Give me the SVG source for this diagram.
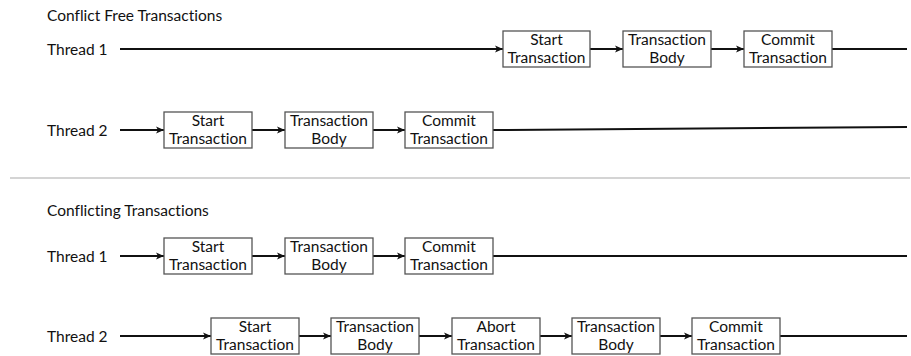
<svg xmlns="http://www.w3.org/2000/svg" width="911" height="356" viewBox="0 0 911 356">
<defs>
<marker id="arr" markerUnits="userSpaceOnUse" markerWidth="9" markerHeight="8" refX="8" refY="4" orient="auto">
<path d="M0,0.5 L8,4 L0,7.5 L2,4 Z" fill="#111"/>
</marker>
</defs>
<style>
text{font-family:Lato,"Liberation Sans",sans-serif;font-size:15.5px;fill:#111;font-variant-ligatures:none;font-feature-settings:"liga" 0,"dlig" 0}
.box rect{fill:#fff;stroke:#555;stroke-width:1.3}
.box text{text-anchor:middle}
.c line{stroke:#111;stroke-width:2}
.c .a{marker-end:url(#arr)}
</style>
<rect width="911" height="356" fill="#fff"/>
<text x="47" y="21">Conflict Free Transactions</text>
<text x="47" y="55">Thread 1</text>
<text x="47" y="136">Thread 2</text>
<line x1="10" y1="178" x2="910" y2="178" stroke="#aaa" stroke-width="1.2"/>
<text x="47" y="216">Conflicting Transactions</text>
<text x="47" y="262">Thread 1</text>
<text x="47" y="342">Thread 2</text>

<g class="c" id="connectors">
<line class="a" x1="120" y1="49" x2="503" y2="49"/>
<line class="a" x1="590" y1="49" x2="623" y2="49"/>
<line class="a" x1="711" y1="49" x2="744" y2="49"/>
<line x1="832" y1="49" x2="907" y2="49"/>
<line class="a" x1="120" y1="130" x2="164" y2="130"/>
<line class="a" x1="252" y1="130" x2="285" y2="130"/>
<line class="a" x1="373" y1="130" x2="405" y2="130"/>
<line x1="493" y1="130" x2="907" y2="127"/>
<line class="a" x1="120" y1="256" x2="164" y2="256"/>
<line class="a" x1="252" y1="256" x2="285" y2="256"/>
<line class="a" x1="373" y1="256" x2="405" y2="256"/>
<line x1="493" y1="256" x2="907" y2="256"/>
<line class="a" x1="120" y1="336" x2="211" y2="336"/>
<line class="a" x1="299" y1="336" x2="331" y2="336"/>
<line class="a" x1="419" y1="336" x2="452" y2="336"/>
<line class="a" x1="540" y1="336" x2="572" y2="336"/>
<line class="a" x1="660" y1="336" x2="692" y2="336"/>
<line x1="780" y1="336" x2="907" y2="336"/>
</g>

<g class="box" id="cf-t1-start"><rect x="503" y="31" width="87" height="36"/><text x="546.5" y="45">Start</text><text x="546.5" y="63">Transaction</text></g>
<g class="box" id="cf-t1-body"><rect x="623" y="31" width="88" height="36"/><text x="667" y="45">Transaction</text><text x="667" y="63">Body</text></g>
<g class="box" id="cf-t1-commit"><rect x="744" y="31" width="88" height="36"/><text x="788" y="45">Commit</text><text x="788" y="63">Transaction</text></g>

<g class="box" id="cf-t2-start"><rect x="164" y="112" width="88" height="36"/><text x="208" y="126">Start</text><text x="208" y="144">Transaction</text></g>
<g class="box" id="cf-t2-body"><rect x="285" y="112" width="88" height="36"/><text x="329" y="126">Transaction</text><text x="329" y="144">Body</text></g>
<g class="box" id="cf-t2-commit"><rect x="405" y="112" width="88" height="36"/><text x="449" y="126">Commit</text><text x="449" y="144">Transaction</text></g>

<g class="box" id="ct-t1-start"><rect x="164" y="238" width="88" height="36"/><text x="208" y="252">Start</text><text x="208" y="270">Transaction</text></g>
<g class="box" id="ct-t1-body"><rect x="285" y="238" width="88" height="36"/><text x="329" y="252">Transaction</text><text x="329" y="270">Body</text></g>
<g class="box" id="ct-t1-commit"><rect x="405" y="238" width="88" height="36"/><text x="449" y="252">Commit</text><text x="449" y="270">Transaction</text></g>

<g class="box" id="ct-t2-start"><rect x="211" y="318" width="88" height="36"/><text x="255" y="332">Start</text><text x="255" y="350">Transaction</text></g>
<g class="box" id="ct-t2-body1"><rect x="331" y="318" width="88" height="36"/><text x="375" y="332">Transaction</text><text x="375" y="350">Body</text></g>
<g class="box" id="ct-t2-abort"><rect x="452" y="318" width="88" height="36"/><text x="496" y="332">Abort</text><text x="496" y="350">Transaction</text></g>
<g class="box" id="ct-t2-body2"><rect x="572" y="318" width="88" height="36"/><text x="616" y="332">Transaction</text><text x="616" y="350">Body</text></g>
<g class="box" id="ct-t2-commit"><rect x="692" y="318" width="88" height="36"/><text x="736" y="332">Commit</text><text x="736" y="350">Transaction</text></g>
</svg>
